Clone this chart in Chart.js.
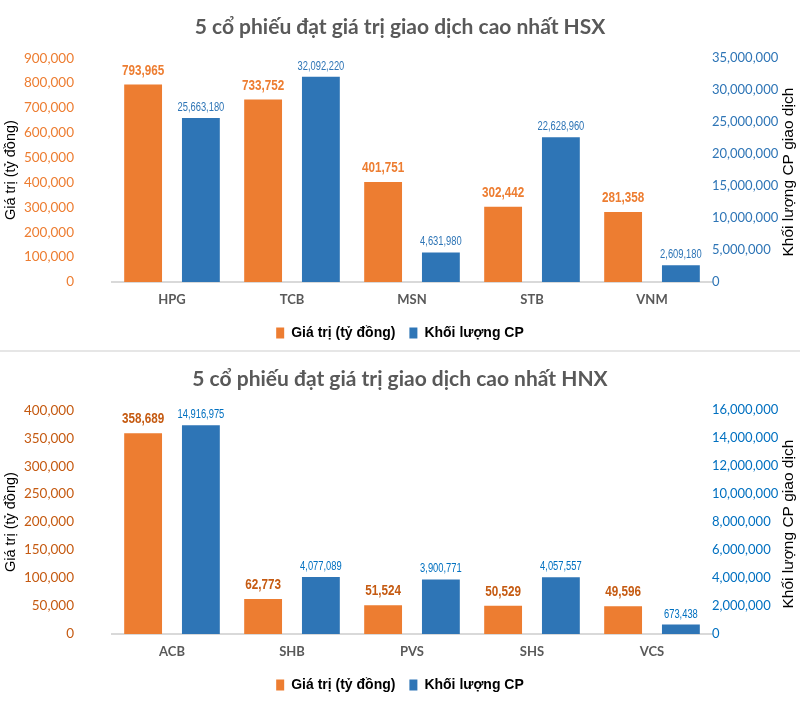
<!DOCTYPE html>
<html>
<head>
<meta charset="utf-8">
<script src="https://cdn.jsdelivr.net/npm/chart.js@4.4.1/dist/chart.umd.min.js"></script>
<style>
  html, body { margin: 0; padding: 0; background: #ffffff; }
  #wrap { position: relative; width: 800px; height: 728px; }
  #c1 { position: absolute; left: 0; top: 0; }
  #sep { position: absolute; left: 0; top: 350px; width: 800px; height: 2px; background: #e6e6e6; }
  #c2 { position: absolute; left: 0; top: 352px; }
</style>
</head>
<body>
<div id="wrap">
  <canvas id="c1" width="800" height="350"></canvas>
  <div id="sep"></div>
  <canvas id="c2" width="800" height="350"></canvas>
</div>
<script>
// ---------- DATA ----------
const hsxTitle = '5 cổ phiếu đạt giá trị giao dịch cao nhất HSX';
const hsxCategories = ['HPG', 'TCB', 'MSN', 'STB', 'VNM'];
const hsxValue = [793965, 733752, 401751, 302442, 281358];
const hsxVolume = [25663180, 32092220, 4631980, 22628960, 2609180];
const hsxValueAxis = [0, 900000, 100000];      // min, max, step
const hsxVolumeAxis = [0, 35000000, 5000000];

const hnxTitle = '5 cổ phiếu đạt giá trị giao dịch cao nhất HNX';
const hnxCategories = ['ACB', 'SHB', 'PVS', 'SHS', 'VCS'];
const hnxValue = [358689, 62773, 51524, 50529, 49596];
const hnxVolume = [14916975, 4077089, 3900771, 4057557, 673438];
const hnxValueAxis = [0, 400000, 50000];
const hnxVolumeAxis = [0, 16000000, 2000000];

const seriesNames = ['Giá trị (tỷ đồng)', 'Khối lượng CP'];
const leftAxisTitle = 'Giá trị (tỷ đồng)';
const rightAxisTitle = 'Khối lượng CP giao dịch';

// ---------- HELPERS ----------
const fmt = v => Number(v).toLocaleString('en-US');
const NARROW = "'Liberation Sans Narrow', 'Arial Narrow', 'Liberation Sans', sans-serif";

const barLabels = {
  id: 'barLabels',
  afterDatasetsDraw(chart) {
    const ctx = chart.ctx;
    chart.data.datasets.forEach((ds, di) => {
      const meta = chart.getDatasetMeta(di);
      if (meta.hidden) return;
      const st = ds.labelStyle;
      meta.data.forEach((bar, i) => {
        ctx.save();
        ctx.font = st.font;
        ctx.fillStyle = st.color;
        ctx.textAlign = 'center';
        ctx.textBaseline = 'alphabetic';
        ctx.translate(bar.x, bar.y - st.offset);
        ctx.scale(st.squeeze, 1);
        ctx.fillText(fmt(ds.data[i]), 0, 0);
        ctx.restore();
      });
    });
  }
};

// right axis title reads bottom-to-top, as in the reference
const rightTitle = {
  id: 'rightTitle',
  afterDraw(chart) {
    const ctx = chart.ctx;
    const area = chart.chartArea;
    ctx.save();
    ctx.font = "15.5px 'Liberation Sans', sans-serif";
    ctx.fillStyle = '#000000';
    ctx.textAlign = 'center';
    ctx.textBaseline = 'middle';
    ctx.translate(chart.width - 11, (area.top + area.bottom) / 2 + 2);
    ctx.rotate(-Math.PI / 2);
    ctx.fillText(rightAxisTitle, 0, 0);
    ctx.restore();
  }
};

function makeChart(id, title, cats, vals, vols, leftAx, rightAx, colors) {
  return new Chart(document.getElementById(id), {
    type: 'bar',
    data: {
      labels: cats,
      datasets: [
        {
          label: seriesNames[0],
          data: vals,
          yAxisID: 'y',
          backgroundColor: '#ED7D31',
          borderWidth: 0,
          barPercentage: 0.655,
          categoryPercentage: 0.963,
          labelStyle: { font: "bold 15px 'Liberation Sans', sans-serif", color: colors.valLabel, offset: 10, squeeze: 0.78 }
        },
        {
          label: seriesNames[1],
          data: vols,
          yAxisID: 'y1',
          backgroundColor: '#2E75B6',
          borderWidth: 0,
          barPercentage: 0.655,
          categoryPercentage: 0.963,
          labelStyle: { font: "12px 'Liberation Sans', sans-serif", color: colors.volLabel, offset: 7, squeeze: 0.78 }
        }
      ]
    },
    options: {
      responsive: false,
      animation: false,
      layout: { padding: 0 },
      plugins: {
        title: {
          display: true,
          text: title,
          color: '#595959',
          font: { family: 'Lato', weight: 'bold', size: 21 },
          padding: { top: 15, bottom: 18 }
        },
        legend: {
          position: 'bottom',
          labels: {
            boxWidth: 8,
            boxHeight: 11,
            padding: 14,
            color: '#000000',
            font: { family: NARROW, weight: 'bold', size: 14 }
          }
        },
        tooltip: { enabled: false }
      },
      scales: {
        x: {
          grid: { display: false, drawTicks: false },
          border: { display: true, color: '#d9d9d9', width: 2 },
          ticks: { color: '#595959', font: { family: 'Lato', weight: 'bold', size: 13 }, padding: 10 },
          afterFit: s => { s.height = 30; }
        },
        y: {
          position: 'left',
          min: leftAx[0], max: leftAx[1],
          grid: { display: false, drawTicks: false },
          border: { display: false },
          ticks: { stepSize: leftAx[2], color: colors.leftTick, font: { family: 'Lato', size: 13.5 }, padding: 38, callback: v => fmt(v) },
          title: { display: true, text: leftAxisTitle, color: '#000000', font: { family: "'Liberation Sans', sans-serif", size: 14.5 }, padding: { top: 2, bottom: 0 } },
          afterFit: s => { s.width = 112; }
        },
        y1: {
          position: 'right',
          min: rightAx[0], max: rightAx[1],
          grid: { display: false, drawTicks: false },
          border: { display: false },
          ticks: { stepSize: rightAx[2], color: colors.rightTick, font: { family: 'Lato', size: 13 }, padding: 0, callback: v => fmt(v) },
          title: { display: false },
          afterFit: s => { s.width = 88; }
        }
      }
    },
    plugins: [barLabels, rightTitle]
  });
}

makeChart('c1', hsxTitle, hsxCategories, hsxValue, hsxVolume, hsxValueAxis, hsxVolumeAxis,
  { valLabel: '#ED7D31', volLabel: '#2E75B6', leftTick: '#ED7D31', rightTick: '#2E75B6' });
makeChart('c2', hnxTitle, hnxCategories, hnxValue, hnxVolume, hnxValueAxis, hnxVolumeAxis,
  { valLabel: '#C55A11', volLabel: '#0070C0', leftTick: '#C55A11', rightTick: '#0070C0' });
</script>
</body>
</html>
